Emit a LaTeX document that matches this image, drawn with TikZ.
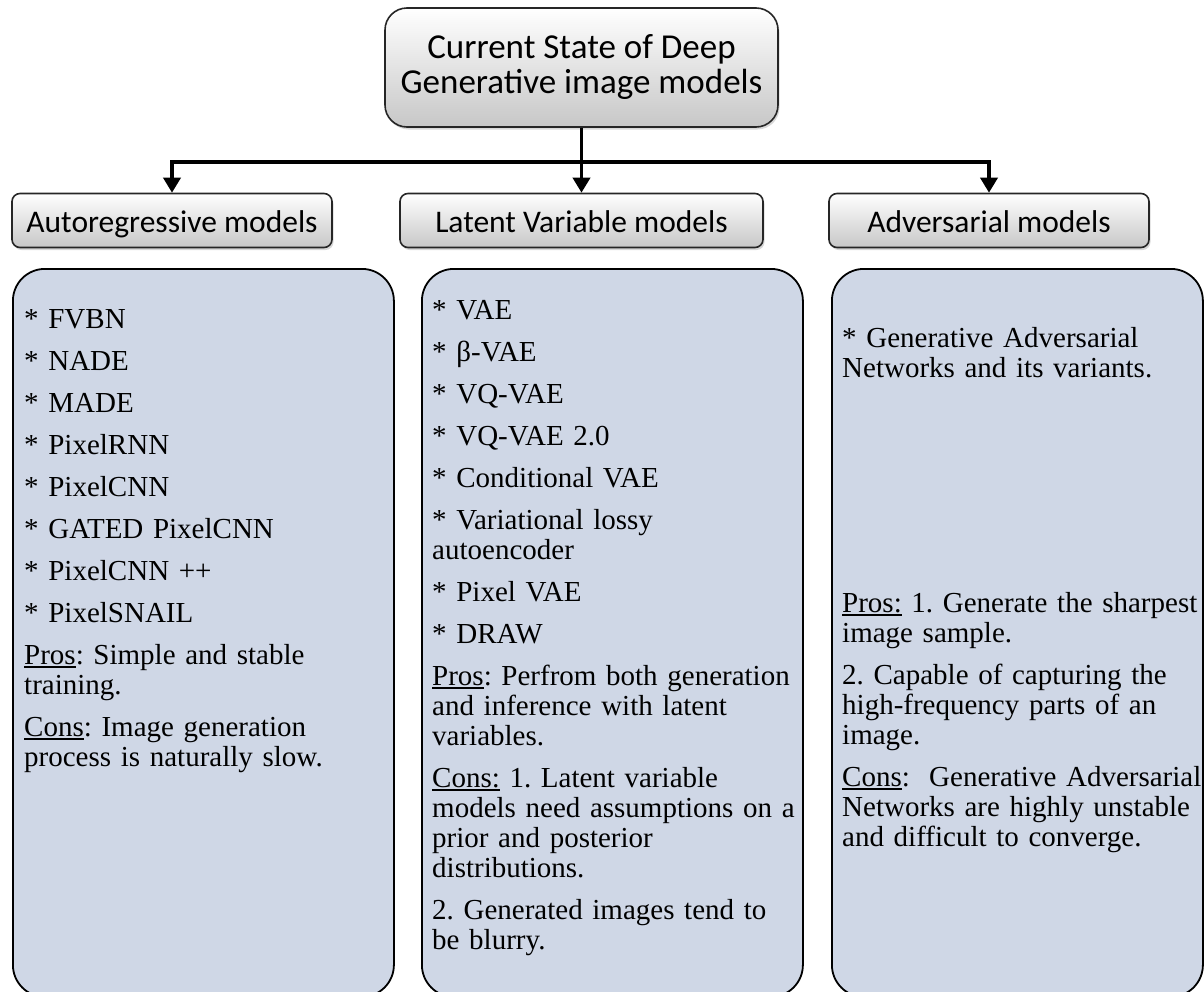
\documentclass[tikz,border=0pt]{standalone}
\usepackage{fontspec}
\setmainfont{Liberation Serif}
\newfontfamily\hdfont{Carlito}
\usetikzlibrary{arrows.meta,shadows}
\definecolor{panelblue}{RGB}{207,215,230}
\newcommand{\undl}[1]{\leavevmode\setbox0\hbox{#1}\rlap{\rule[-3.5pt]{\wd0}{1.6pt}}\box0{}}
\newcommand{\pnfont}{\fontsize{29}{30}\selectfont\frenchspacing}

\begin{document}
\begin{tikzpicture}[x=1pt,y=-1pt,
    hdbox/.style={draw=black!85,line width=1.6pt,rounded corners=8pt,top color=white,bottom color=black!22,
        drop shadow={shadow xshift=1.5pt,shadow yshift=-2.5pt,opacity=0.3},
        inner sep=0pt,minimum height=54pt,text height=26pt,text depth=3pt,
        font=\hdfont\fontsize{31.5}{35}\selectfont},
    panel/.style={draw=black,line width=1.8pt,fill=panelblue,rounded corners=32pt,anchor=north west,
        minimum width=381pt,minimum height=728pt},
    body/.style={anchor=north west,inner sep=0pt,text width=375pt,align=left,font=\pnfont},
    link/.style={line width=3.6pt},
    arr/.style={link,-{Triangle[length=15pt,width=17pt]}}]

            \useasboundingbox[fill=white] (0,0) rectangle (1204,991);

            \node[hdbox,rounded corners=22pt,minimum width=393pt,minimum height=119pt,align=center,
                text height=,text depth=,font=\hdfont\fontsize{35}{35}\selectfont] (root) at (581.5,67.5) {Current State of Deep\\Generative image models};

            \node[hdbox,minimum width=320pt] (auto) at (172,220.5) {Autoregressive models};
            \node[hdbox,minimum width=363pt] (latent) at (581.5,220.5) {Latent Variable models};
            \node[hdbox,minimum width=320pt] (adv) at (989,220.5) {Adversarial models};

            \coordinate (fork) at (581.5,162);
            \draw[link] (root.south) -- (fork);
            \draw[arr] (fork) -| (auto.north);
            \draw[arr] (root.south) -- (latent.north);
            \draw[arr] (fork) -| (adv.north);

            \node[panel] (autoPanel) at (12,268) {};
            \node[panel] (latentPanel) at (421,268) {};
            \node[panel,minimum width=371pt] (advPanel) at (831,268) {};

            \node[body] (autoList) at (24,307) {\strut * FVBN\\[12pt]* NADE\\[12pt]* MADE\\[12pt]* PixelRNN\\[12pt]* PixelCNN\\[12pt]* GATED PixelCNN\\[12pt]* PixelCNN ++\\[12pt]* PixelSNAIL\\[12pt]\undl{Pros}: Simple and stable\\training.\\[12pt]\undl{Cons}: Image generation\\process is naturally slow.};

            \node[body] (latentList) at (432,298) {\strut * VAE\\[12pt]* β-VAE\\[12pt]* VQ-VAE\\[12pt]* VQ-VAE 2.0\\[12pt]* Conditional VAE\\[12pt]* Variational lossy\\autoencoder\\[12pt]* Pixel VAE\\[12pt]* DRAW\\[12pt]\undl{Pros}: Perfrom both generation\\and inference with latent\\variables.\\[12pt]\undl{Cons:} 1. Latent variable\\models need assumptions on a\\prior and posterior\\distributions.\\[12pt]2. Generated images tend to\\be blurry.};

            \node[body] (advList) at (842,326) {\strut * Generative Adversarial\\Networks and its variants.};
            \node[body] (advNotes) at (842,591) {\strut\undl{Pros:} 1. Generate the sharpest\\image sample.\\[12pt]2. Capable of capturing the\\high-frequency parts of an\\image.\\[12pt]\undl{Cons}:~ Generative Adversarial\\Networks are highly unstable\\and difficult to converge.};
        \end{tikzpicture}
\end{document}
